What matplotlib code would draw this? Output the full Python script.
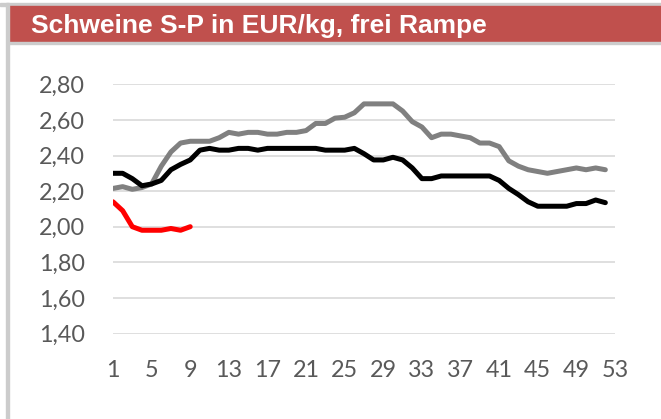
import matplotlib.pyplot as plt
from matplotlib.patches import Rectangle
from matplotlib.ticker import FuncFormatter

# Kalenderwochen
wochen = list(range(1, 53))

# Vorjahr (grau)
preise_grau = [2.215, 2.225, 2.21, 2.22, 2.24, 2.34, 2.42, 2.47, 2.48, 2.48,
               2.48, 2.50, 2.53, 2.52, 2.53, 2.53, 2.52, 2.52, 2.53, 2.53,
               2.54, 2.58, 2.58, 2.61, 2.615, 2.64, 2.69, 2.69, 2.69, 2.69,
               2.65, 2.59, 2.56, 2.50, 2.52, 2.52, 2.51, 2.50, 2.47, 2.47,
               2.45, 2.37, 2.34, 2.32, 2.31, 2.30, 2.31, 2.32, 2.33, 2.32,
               2.33, 2.32]

# Vorletztes Jahr (schwarz)
preise_schwarz = [2.30, 2.30, 2.27, 2.23, 2.24, 2.26, 2.32, 2.35, 2.375, 2.43,
                  2.44, 2.43, 2.43, 2.44, 2.44, 2.43, 2.44, 2.44, 2.44, 2.44,
                  2.44, 2.44, 2.43, 2.43, 2.43, 2.44, 2.41, 2.375, 2.375, 2.39,
                  2.375, 2.33, 2.27, 2.27, 2.285, 2.285, 2.285, 2.285, 2.285, 2.285,
                  2.26, 2.215, 2.18, 2.14, 2.115, 2.115, 2.115, 2.115, 2.13, 2.13,
                  2.15, 2.135]

# aktuelles Jahr (rot)
wochen_aktuell = list(range(1, 10))
preise_rot = [2.14, 2.09, 2.00, 1.98, 1.98, 1.98, 1.99, 1.98, 2.00]

titel = "Schweine S-P in EUR/kg, frei Rampe"
x_ticks = list(range(1, 54, 4))
y_ticks = [1.4, 1.6, 1.8, 2.0, 2.2, 2.4, 2.6, 2.8]

W, H = 661, 419
fig = plt.figure(figsize=(W / 100, H / 100), dpi=100)

# Rahmen und Titelbalken
grau_rand = "#CCCCCC"
fig.patches.append(Rectangle((0, 1 - 6 / H), 1, 3 / H, transform=fig.transFigure,
                             color=grau_rand, zorder=0))
fig.patches.append(Rectangle((9 / W, 1 - 42 / H), 1, 36 / H, transform=fig.transFigure,
                             color="#C0504D", zorder=1))
fig.patches.append(Rectangle((9 / W, 1 - 44 / H), 1, 2 / H, transform=fig.transFigure,
                             color=grau_rand, zorder=1))
fig.patches.append(Rectangle((6 / W, 0), 3 / W, 1 - 3 / H, transform=fig.transFigure,
                             color=grau_rand, zorder=1))
fig.text(31 / W, 1 - 33.5 / H, titel, color="white", fontsize=19,
         fontweight="bold", family="Liberation Sans", va="baseline", ha="left")

ax = fig.add_axes([113 / W, 1 - 333.5 / H, (615 - 113) / W, (333.5 - 84.3) / H])

lw = 3.6
ax.plot(wochen, preise_grau, color="#808080", lw=lw, solid_joinstyle="round",
        solid_capstyle="round", zorder=3)
ax.plot(wochen, preise_schwarz, color="black", lw=lw, solid_joinstyle="round",
        solid_capstyle="round", zorder=4)
ax.plot(wochen_aktuell, preise_rot, color="#FF0000", lw=lw, solid_joinstyle="round",
        solid_capstyle="round", zorder=5)

ax.set_xlim(1, 53)
ax.set_ylim(1.4, 2.8)
ax.set_xticks(x_ticks)
ax.set_yticks(y_ticks)
ax.yaxis.set_major_formatter(FuncFormatter(lambda v, p: f"{v:.2f}".replace(".", ",")))
ax.grid(axis="y", color="#D9D9D9", lw=1.2)
ax.set_axisbelow(True)
for s in ax.spines.values():
    s.set_visible(False)
ax.tick_params(length=0, labelsize=16.8, labelcolor="#595959")
ax.tick_params(axis="y", pad=20)
ax.tick_params(axis="x", pad=19)
for lab in ax.get_xticklabels() + ax.get_yticklabels():
    lab.set_family("Lato")

fig.savefig("out.png", dpi=100)
